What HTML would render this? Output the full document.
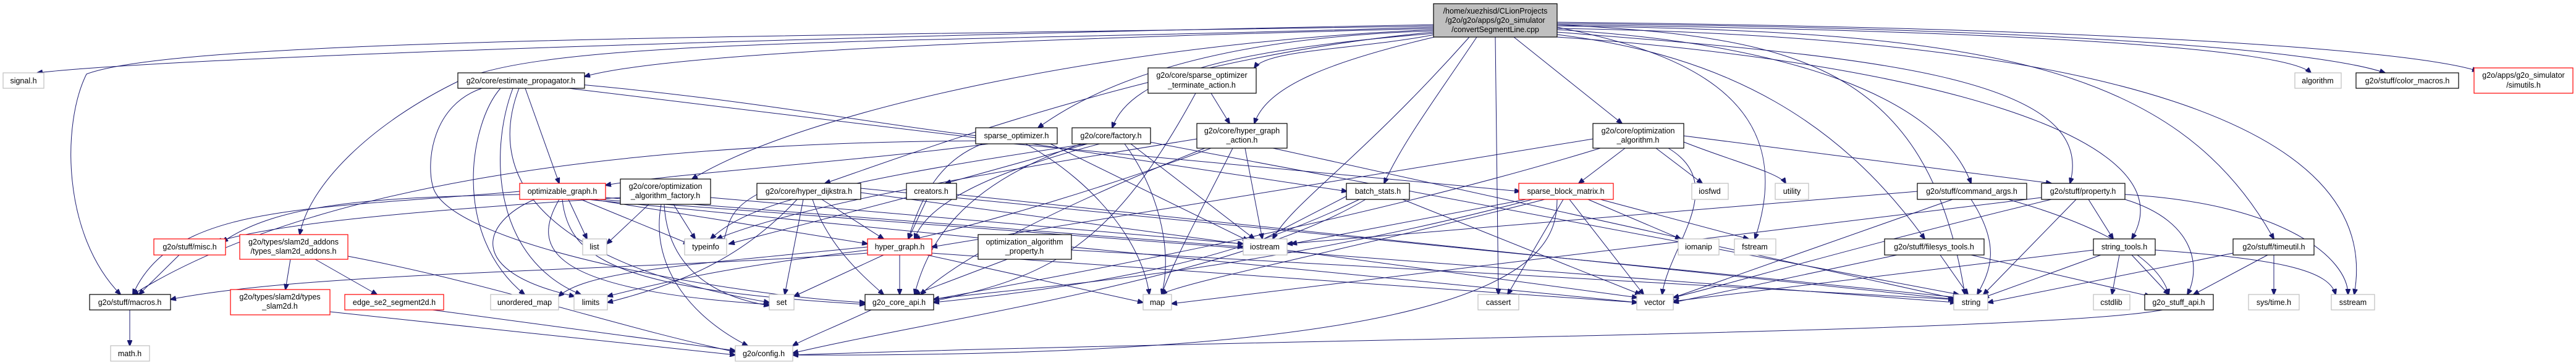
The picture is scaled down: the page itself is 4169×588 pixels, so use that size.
<!DOCTYPE html>
<html><head><meta charset="utf-8"><style>
html,body{margin:0;padding:0;background:#fff;}
svg{display:block;}
text{font-family:"Liberation Sans",sans-serif;font-size:12.5px;fill:#000;text-anchor:middle;}
.e{fill:none;stroke:#191970;stroke-width:1;}
.b{fill:#fff;stroke:#000;stroke-width:1.2;}
.g{fill:#fff;stroke:#bfbfbf;stroke-width:1.2;}
.r{fill:#fff;stroke:#ff0000;stroke-width:1.2;}
</style></head><body>
<svg width="4169" height="588" viewBox="0 0 4169 588" xmlns="http://www.w3.org/2000/svg">
<defs><marker id="a" markerWidth="10" markerHeight="8" refX="9" refY="4" orient="auto" markerUnits="userSpaceOnUse"><path d="M0,0 L10,4 L0,8 z" fill="#191970" stroke="#191970"/></marker></defs>
<g class="e" marker-end="url(#a)">
<!-- main fan-out -->
<path d="M2320 40 C1500 55,300 90,60 118"/>
<path d="M2320 42 C1300 60,300 60,140 120 C100 200,100 380,195 477"/>
<path d="M2320 44 C1500 70,900 60,745 130 C600 200,500 300,485 380"/>
<path d="M2320 46 C1800 60,1100 80,946 124"/>
<path d="M2320 50 C2000 60,1800 120,1680 207"/>
<path d="M2322 54 C2000 80,1830 120,1800 207"/>
<path d="M2322 56 C2200 80,2050 80,2030 110"/>
<path d="M2330 58 C2150 100,2050 140,2030 200"/>
<path d="M2320 48 C1800 70,1300 180,1120 290"/>
<path d="M2320 52 C1900 90,1500 240,1335 297"/>
<path d="M2390 60 C2330 150,2270 230,2240 297"/>
<path d="M2420 60 L2425 477"/>
<path d="M2450 60 L2625 200"/>
<path d="M2378 60 C2200 260,2090 330,2060 387"/>
<path d="M2520 40 C2900 60,3120 100,3180 477"/>
<path d="M2520 44 C2700 80,2920 150,2840 387"/>
<path d="M2520 48 C2900 70,3140 160,3190 297"/>
<path d="M2520 52 C3000 90,3400 120,3350 297"/>
<path d="M2520 56 C2800 90,2980 200,3115 387"/>
<path d="M2520 60 C3100 100,3550 220,3450 387"/>
<path d="M2520 42 C3200 50,3520 100,3680 387"/>
<path d="M2520 40 C3300 50,3700 80,3740 118"/>
<path d="M2520 38 C3300 45,3750 80,3860 118"/>
<path d="M2520 36 C3400 45,3900 80,4010 115"/>
<path d="M2520 46 C3400 60,3860 200,3810 477"/>
<!-- estimate_propagator -->
<path d="M850 143 L905 297"/>
<path d="M810 143 C760 200,730 380,849 477"/>
<path d="M830 143 C790 250,800 420,940 477"/>
<path d="M840 143 C780 300,900 430,1245 490"/>
<path d="M920 143 L1595 225"/>
<path d="M940 137 C1300 170,1500 220,1700 230"/>
<path d="M780 143 C700 170,690 260,700 300 C720 400,1200 480,1400 490"/>
<!-- sparse_optimizer -->
<path d="M1600 233 C1400 260,1100 280,980 300"/>
<path d="M1600 228 C1000 230,500 300,215 477"/>
<path d="M1640 233 L2460 310"/>
<path d="M1670 233 L2180 310"/>
<path d="M1660 233 C1780 300,1850 400,1860 477"/>
<path d="M1590 233 C1520 260,1490 320,1470 387"/>
<path d="M1700 233 L2020 390"/>
<!-- factory -->
<path d="M1760 233 L1530 297"/>
<path d="M1780 233 C1600 280,1500 330,1480 387"/>
<path d="M1820 233 C1870 300,1900 400,1880 477"/>
<path d="M1830 233 L2030 387"/>
<path d="M1860 230 L3170 477"/>
<path d="M1760 233 C1300 300,1200 340,1150 387"/>
<path d="M1750 233 C1550 300,1500 400,1480 477"/>
<!-- hyper_graph_action -->
<path d="M1960 240 C1800 300,1600 360,1480 387"/>
<path d="M2015 240 L2043 387"/>
<path d="M1995 240 C1950 330,1900 420,1880 477"/>
<path d="M2060 240 L3170 485"/>
<path d="M1950 240 C1700 340,1550 420,1490 477"/>
<path d="M1937 225 C1600 280,1300 330,1160 387"/>
<!-- terminate -->
<path d="M1960 151 L1990 200"/>
<path d="M1935 151 C1800 400,1700 450,1500 490"/>
<!-- creators -->
<path d="M1500 323 L1470 387"/>
<path d="M1467 320 L1180 395"/>
<path d="M1548 315 L3165 485"/>
<!-- optimizable_graph -->
<path d="M920 323 L950 387"/>
<path d="M940 323 L1115 395"/>
<path d="M865 323 C780 360,750 440,930 480"/>
<path d="M905 323 C860 400,880 470,1245 493"/>
<path d="M841 315 C600 320,450 330,360 392"/>
<path d="M841 310 C500 340,280 330,215 477"/>
<path d="M960 323 L1404 395"/>
<path d="M980 320 L2012 400"/>
<path d="M970 323 L3165 490"/>
<path d="M950 323 L2650 490"/>
<path d="M910 323 C920 420,1000 470,1400 493"/>
<!-- opt alg factory -->
<path d="M1050 331 L982 395"/>
<path d="M1090 331 L1125 387"/>
<path d="M1070 331 C1050 440,1130 520,1210 560"/>
<path d="M1075 331 C1080 430,1150 480,1245 495"/>
<path d="M1150 320 L2012 395"/>
<path d="M1004 320 C700 340,450 360,350 392"/>
<!-- hyper_dijkstra -->
<path d="M1300 323 L1270 477"/>
<path d="M1290 323 C1200 420,1100 460,983 490"/>
<path d="M1315 323 C1340 400,1400 450,1430 477"/>
<path d="M1330 323 L1430 387"/>
<path d="M1225 315 C1180 340,1180 360,1170 395"/>
<path d="M1393 305 L3170 482"/>
<path d="M1393 312 L2650 482"/>
<!-- hyper_graph -->
<path d="M1456 413 L1456 477"/>
<path d="M1500 413 L1850 490"/>
<path d="M1430 413 L1285 480"/>
<path d="M1404 405 C1200 430,1100 450,983 480"/>
<path d="M1404 400 C1100 430,950 440,904 480"/>
<path d="M1404 410 C1000 440,500 440,276 485"/>
<path d="M1508 410 L2650 490"/>
<!-- opt alg property -->
<path d="M1630 420 L1480 477"/>
<path d="M1734 405 L3162 485"/>
<!-- core api -->
<path d="M1410 502 C1350 530,1300 550,1283 560"/>
<!-- batch stats -->
<path d="M2270 323 L2655 477"/>
<path d="M2200 323 C2000 420,1800 460,1511 490"/>
<path d="M2210 323 C2000 450,1500 520,1283 572"/>
<path d="M2179 318 L2020 400"/>
<!-- sparse block matrix -->
<path d="M2530 323 L2440 477"/>
<path d="M2540 323 L2660 477"/>
<path d="M2570 323 L2720 387"/>
<path d="M2590 323 L2830 387"/>
<path d="M2520 323 C2520 420,2450 580,1283 575"/>
<path d="M2500 323 C2200 400,1900 460,1880 477"/>
<path d="M2470 323 L2090 395"/>
<path d="M2480 323 C2000 450,1600 470,1511 485"/>
<!-- optimization algorithm -->
<path d="M2630 240 L2555 297"/>
<path d="M2680 240 L2755 297"/>
<path d="M2578 225 L1508 400"/>
<path d="M2590 240 C2200 360,1700 450,1511 485"/>
<path d="M2725 230 C2800 260,2880 280,2890 297"/>
<path d="M2725 220 L3320 297"/>
<path d="M2700 240 C2800 300,2700 400,2690 477"/>
<!-- command args -->
<path d="M3190 323 C3240 400,3220 440,3200 477"/>
<path d="M3160 323 L2700 485"/>
<path d="M3250 323 C3450 380,3500 440,3510 477"/>
<path d="M3103 310 L2083 395"/>
<!-- property -->
<path d="M3360 323 L3210 477"/>
<path d="M3380 323 L3420 387"/>
<path d="M3439 315 C3700 330,3800 420,3800 477"/>
<path d="M3439 323 C3560 360,3560 440,3540 477"/>
<path d="M3320 323 C3000 400,2800 460,2708 482"/>
<path d="M3304 320 L1896 492"/>
<!-- filesys -->
<path d="M3140 413 L3185 477"/>
<path d="M3190 413 L3480 480"/>
<path d="M3070 413 L2708 490"/>
<!-- string tools -->
<path d="M3400 413 L3210 482"/>
<path d="M3430 413 L3418 477"/>
<path d="M3450 413 L3510 477"/>
<path d="M3488 405 C3700 420,3770 440,3780 477"/>
<path d="M3388 405 L2708 488"/>
<!-- timeutil -->
<path d="M3670 413 L3550 477"/>
<path d="M3680 413 L3680 477"/>
<path d="M3614 410 L3217 490"/>
<!-- stuff api -->
<path d="M3500 502 C3300 540,2000 550,1283 575"/>
<!-- misc etc -->
<path d="M290 413 L225 477"/>
<path d="M210 502 L210 560"/>
<path d="M470 420 L462 469"/>
<path d="M510 420 L610 477"/>
<path d="M563 415 C800 460,1000 530,1190 570"/>
<path d="M534 505 L1190 575"/>
<path d="M700 502 L1190 568"/>
</g>
<!-- nodes -->
<g>
<rect class="g" x="2320" y="6" width="200" height="54" style="fill:#bfbfbf;stroke:#000"/>
<text x="2420" y="22">/home/xuezhisd/CLionProjects</text>
<text x="2420" y="37">/g2o/g2o/apps/g2o_simulator</text>
<text x="2420" y="52">/convertSegmentLine.cpp</text>

<rect class="g" x="5" y="118" width="66" height="25"/><text x="38" y="135">signal.h</text>
<rect class="b" x="145" y="477" width="131" height="25"/><text x="210" y="494">g2o/stuff/macros.h</text>
<rect class="g" x="179" y="560" width="63" height="25"/><text x="210" y="577">math.h</text>
<rect class="r" x="249" y="387" width="116" height="26"/><text x="307" y="404">g2o/stuff/misc.h</text>
<rect class="r" x="388" y="380" width="175" height="40"/><text x="475" y="396">g2o/types/slam2d_addons</text><text x="475" y="411">/types_slam2d_addons.h</text>
<rect class="r" x="373" y="469" width="161" height="41"/><text x="453" y="485">g2o/types/slam2d/types</text><text x="453" y="500">_slam2d.h</text>
<rect class="r" x="558" y="477" width="160" height="25"/><text x="638" y="494">edge_se2_segment2d.h</text>
<rect class="b" x="741" y="118" width="205" height="25"/><text x="843" y="135">g2o/core/estimate_propagator.h</text>
<rect class="r" x="841" y="297" width="139" height="26"/><text x="910" y="314">optimizable_graph.h</text>
<rect class="b" x="1004" y="290" width="146" height="41"/><text x="1077" y="306">g2o/core/optimization</text><text x="1077" y="321">_algorithm_factory.h</text>
<rect class="b" x="1225" y="297" width="168" height="26"/><text x="1309" y="314">g2o/core/hyper_dijkstra.h</text>
<rect class="g" x="943" y="387" width="39" height="26"/><text x="962" y="404">list</text>
<rect class="g" x="1108" y="387" width="68" height="26"/><text x="1142" y="404">typeinfo</text>
<rect class="g" x="794" y="477" width="110" height="25"/><text x="849" y="494">unordered_map</text>
<rect class="g" x="929" y="477" width="54" height="25"/><text x="956" y="494">limits</text>
<rect class="g" x="1245" y="477" width="40" height="25"/><text x="1265" y="494">set</text>
<rect class="g" x="1190" y="560" width="93" height="25"/><text x="1236" y="577">g2o/config.h</text>
<rect class="b" x="1858" y="110" width="175" height="41"/><text x="1945" y="126">g2o/core/sparse_optimizer</text><text x="1945" y="142">_terminate_action.h</text>
<rect class="b" x="1579" y="207" width="132" height="26"/><text x="1645" y="224">sparse_optimizer.h</text>
<rect class="b" x="1735" y="207" width="127" height="26"/><text x="1798" y="224">g2o/core/factory.h</text>
<rect class="b" x="1937" y="200" width="146" height="40"/><text x="2010" y="216">g2o/core/hyper_graph</text><text x="2010" y="231">_action.h</text>
<rect class="b" x="1467" y="297" width="81" height="26"/><text x="1507" y="314">creators.h</text>
<rect class="r" x="1404" y="387" width="104" height="26"/><text x="1456" y="404">hyper_graph.h</text>
<rect class="b" x="1583" y="380" width="151" height="40"/><text x="1658" y="396">optimization_algorithm</text><text x="1658" y="411">_property.h</text>
<rect class="g" x="2012" y="387" width="71" height="26"/><text x="2047" y="404">iostream</text>
<rect class="b" x="1400" y="477" width="111" height="25"/><text x="1455" y="494">g2o_core_api.h</text>
<rect class="g" x="1850" y="477" width="46" height="25"/><text x="1873" y="494">map</text>
<rect class="b" x="2578" y="200" width="147" height="40"/><text x="2651" y="216">g2o/core/optimization</text><text x="2651" y="231">_algorithm.h</text>
<rect class="b" x="2179" y="297" width="102" height="26"/><text x="2230" y="314">batch_stats.h</text>
<rect class="r" x="2458" y="297" width="153" height="26"/><text x="2534" y="314">sparse_block_matrix.h</text>
<rect class="g" x="2738" y="297" width="59" height="26"/><text x="2767" y="314">iosfwd</text>
<rect class="g" x="2716" y="387" width="66" height="26"/><text x="2749" y="404">iomanip</text>
<rect class="g" x="2392" y="477" width="66" height="25"/><text x="2425" y="494">cassert</text>
<rect class="g" x="2649" y="477" width="59" height="25"/><text x="2678" y="494">vector</text>
<rect class="g" x="2873" y="297" width="54" height="26"/><text x="2900" y="314">utility</text>
<rect class="b" x="3103" y="297" width="177" height="26"/><text x="3191" y="314">g2o/stuff/command_args.h</text>
<rect class="b" x="3304" y="297" width="135" height="26"/><text x="3371" y="314">g2o/stuff/property.h</text>
<rect class="g" x="2807" y="387" width="67" height="26"/><text x="2840" y="404">fstream</text>
<rect class="b" x="3050" y="387" width="161" height="26"/><text x="3130" y="404">g2o/stuff/filesys_tools.h</text>
<rect class="b" x="3388" y="387" width="100" height="26"/><text x="3438" y="404">string_tools.h</text>
<rect class="g" x="3162" y="477" width="55" height="25"/><text x="3190" y="494">string</text>
<rect class="g" x="3388" y="477" width="59" height="25"/><text x="3417" y="494">cstdlib</text>
<rect class="b" x="3471" y="477" width="111" height="25"/><text x="3526" y="494">g2o_stuff_api.h</text>
<rect class="g" x="3714" y="118" width="75" height="25"/><text x="3751" y="135">algorithm</text>
<rect class="b" x="3813" y="118" width="166" height="25"/><text x="3896" y="135">g2o/stuff/color_macros.h</text>
<rect class="r" x="4004" y="110" width="160" height="41"/><text x="4084" y="126">g2o/apps/g2o_simulator</text><text x="4084" y="142">/simutils.h</text>
<rect class="b" x="3614" y="387" width="131" height="26"/><text x="3680" y="404">g2o/stuff/timeutil.h</text>
<rect class="g" x="3639" y="477" width="82" height="25"/><text x="3680" y="494">sys/time.h</text>
<rect class="g" x="3773" y="477" width="70" height="25"/><text x="3808" y="494">sstream</text>
</g>
</svg>
</body></html>
